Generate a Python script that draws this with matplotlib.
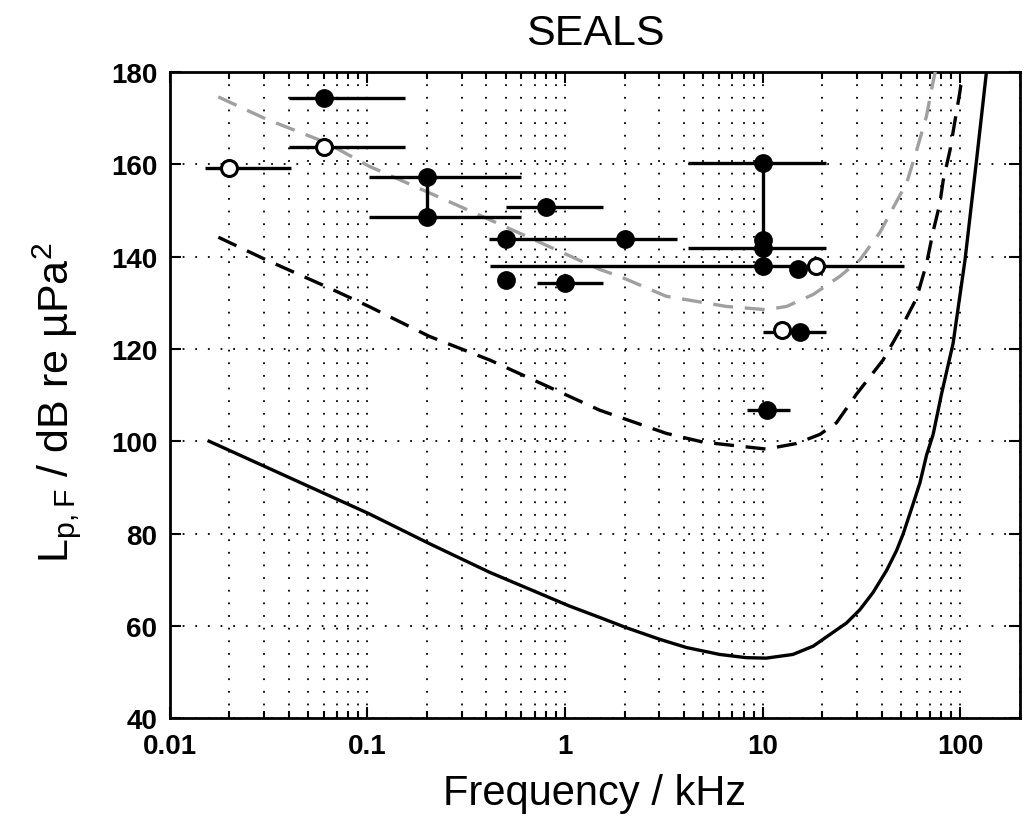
import matplotlib
matplotlib.use('Agg')
import matplotlib.pyplot as plt
from matplotlib.ticker import FixedLocator, NullFormatter
import numpy as np

plt.rcParams['font.family'] = ['Liberation Sans', 'DejaVu Sans']
plt.rcParams['mathtext.default'] = 'regular'

# threshold curves (kHz, dB)
solid_f = [0.0158, 0.0307, 0.1017, 0.206, 0.415, 1.05, 1.5, 2.04, 3.0, 4.11, 6.05, 8.26,
           10.4, 14.2, 18.0, 21.0, 26.5, 31.0, 36.1, 42.3, 47.5, 51.3, 57.7, 62.4,
           67.4, 72.8, 80.0, 91.8, 105.5, 120.8, 135.8]
solid_l = [100.0, 94.4, 84.3, 77.8, 71.6, 64.3, 61.8, 59.6, 57.1, 55.3, 53.8, 53.1,
           53.0, 53.8, 55.6, 57.6, 60.6, 63.5, 67.2, 72.0, 76.3, 79.9, 86.5, 91.0,
           97.0, 101.5, 110.0, 121.2, 139.3, 161.1, 180.5]

dash_f = [0.0176, 0.0307, 0.0618, 0.1017, 0.206, 0.415, 1.5, 3.25, 4.99, 10.4,
          14.8, 19.5, 23.6, 29.8, 40.6, 49.4, 60.0, 67.4, 72.8, 78.7, 81.8, 88.5,
          91.8, 99.3, 103.0]
dash_l = [144.2, 139.3, 133.5, 129.2, 122.7, 117.6, 106.7, 101.7, 99.8, 98.3,
          99.5, 101.5, 104.0, 110.2, 117.6, 124.0, 131.0, 138.5, 145.5, 151.5, 156.5, 163.0,
          167.0, 175.6, 180.5]

grey_f = [0.0176, 0.0307, 0.0618, 0.1017, 0.206, 0.415, 1.5, 1.89, 3.25, 6.55, 10.4,
          13.2, 18.0, 24.5, 31.0, 39.1, 45.7, 53.5, 60.0, 67.4, 72.8, 75.0]
grey_l = [174.6, 169.8, 164.7, 159.6, 153.8, 148.0, 137.2, 135.7, 131.4, 129.2, 128.5,
          129.2, 131.8, 135.7, 139.3, 145.2, 150.6, 156.0, 163.0, 170.5, 178.0, 180.5]

# filled symbols: centre, level, lower and upper band edge
filled_f  = [0.06, 0.2, 0.2, 0.8, 2.0, 0.5, 0.5, 1.0, 10.0, 10.0, 10.0, 10.0, 15.0, 15.4, 10.5]
filled_l  = [174.3, 157.2, 148.5, 150.8, 143.8, 143.8, 135.0, 134.3, 160.2, 143.5, 141.8, 138.0, 137.3, 123.7, 106.7]
filled_lo = [0.04, 0.102, 0.102, 0.5, 0.41, 0.5, 0.5, 0.72, 4.2, 10.0, 4.2, 0.415, 15.0, 10.0, 8.3]
filled_hi = [0.155, 0.6, 0.6, 1.55, 3.7, 0.5, 0.5, 1.55, 21.0, 10.0, 21.0, 52.0, 15.0, 21.0, 13.7]

# open symbols
open_f  = [0.02, 0.06, 18.5, 12.5]
open_l  = [159.3, 163.7, 138.0, 124.1]
open_lo = [0.015, 0.04, 18.5, 12.5]
open_hi = [0.041, 0.155, 18.5, 12.5]

# vertical links between symbols
link_f = [0.2, 10.0]
link_lo = [148.5, 142.0]
link_hi = [157.2, 160.2]

fig = plt.figure(figsize=(10.23, 8.2), dpi=100)
ax = fig.add_axes([0.166, 0.123, 0.831, 0.788])

ax.plot(solid_f, solid_l, color='black', lw=2.4, zorder=3)
ax.plot(dash_f, dash_l, color='black', lw=2.4, dashes=(6, 3.5), zorder=3)
ax.plot(grey_f, grey_l, color='#a0a0a0', lw=2.4, dashes=(6, 3.5), zorder=3)

for f, lo, hi in zip(link_f, link_lo, link_hi):
    ax.plot([f, f], [lo, hi], color='black', lw=2.4, zorder=4)

ff = np.array(filled_f)
ax.errorbar(ff, filled_l, xerr=[ff - np.array(filled_lo), np.array(filled_hi) - ff],
            fmt='o', color='black', ms=12.5, mfc='black', mec='black',
            elinewidth=2.4, capsize=0, zorder=5)
of = np.array(open_f)
ax.errorbar(of, open_l, xerr=[of - np.array(open_lo), np.array(open_hi) - of],
            fmt='o', color='black', ms=11.5, mfc='white', mec='black', mew=2.2,
            elinewidth=2.4, capsize=0, zorder=6)

ax.set_xscale('log')
ax.set_xlim(0.01, 200)
ax.set_ylim(40, 180)
ax.set_yticks(np.arange(40, 181, 20))
ax.set_xticks([0.01, 0.1, 1, 10, 100])
ax.set_xticklabels(['0.01', '0.1', '1', '10', '100'])
ax.xaxis.set_minor_locator(FixedLocator([m * 10.0**e for e in range(-2, 3) for m in range(2, 10)]))
ax.xaxis.set_minor_formatter(NullFormatter())

ax.grid(True, which='major', color='black', lw=1.3, linestyle=(0, (1, 6)))
ax.grid(True, which='minor', axis='x', color='black', lw=1.3, linestyle=(0, (1, 6)))

ax.tick_params(which='both', direction='in', top=True, right=True, width=1.5)
ax.tick_params(which='major', length=8, labelsize=20)
ax.tick_params(axis='y', which='major', pad=9)
ax.tick_params(axis='x', which='major', pad=11)
ax.tick_params(which='minor', length=5)
for lab in ax.get_xticklabels() + ax.get_yticklabels():
    lab.set_fontweight('bold')
for s in ax.spines.values():
    s.set_linewidth(2)

ax.set_title('SEALS', fontsize=31, pad=20)
ax.set_xlabel('Frequency / kHz', fontsize=30, labelpad=10)
ax.set_ylabel('L$_{p,F}$ / dB re µPa$^2$', fontsize=31, labelpad=20)
ax.yaxis.label.set_y(0.49)

fig.savefig('out.png', dpi=100)
